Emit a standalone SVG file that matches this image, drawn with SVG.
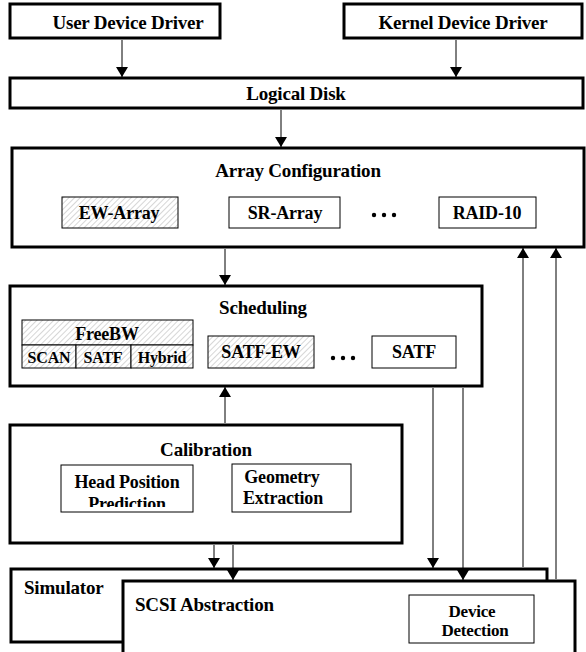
<svg xmlns="http://www.w3.org/2000/svg" width="586" height="652" viewBox="0 0 586 652">
<style>
.outer{fill:#fff;stroke:#000;stroke-width:3}
.inner{fill:#fff;stroke:#000;stroke-width:1}
.hatch{fill:url(#hatch);stroke:#000;stroke-width:1}
.t{font-family:"Liberation Serif","Times New Roman",serif;font-weight:bold;font-size:19px;fill:#000;letter-spacing:-0.2px}
.m{font-size:18px}
.s{font-size:16px}
.d{font-size:17px}
.c{text-anchor:middle}
.conn line{stroke:#000;stroke-width:1}
</style>
<defs>
<pattern id="hatch" patternUnits="userSpaceOnUse" width="4" height="4" patternTransform="rotate(45)">
<rect width="4" height="4" fill="#fff"/>
<line x1="0" y1="0" x2="0" y2="4" stroke="#bbb" stroke-width="1.2"/>
</pattern>
<marker id="ah" viewBox="0 0 10 12" refX="10" refY="6" markerWidth="10" markerHeight="12" markerUnits="userSpaceOnUse" orient="auto">
<path d="M0,0 L10,6 L0,12 z" fill="#000"/>
</marker>
<clipPath id="hpClip"><rect x="61" y="465" width="132" height="42"/></clipPath>
</defs>

<g id="user-device-driver">
<rect class="outer" x="10" y="4" width="210" height="34"/>
<text class="t c" x="128" y="29">User Device Driver</text>
</g>
<g id="kernel-device-driver">
<rect class="outer" x="344" y="4" width="238" height="34"/>
<text class="t c" x="463" y="29">Kernel Device Driver</text>
</g>
<g id="logical-disk">
<rect class="outer" x="10" y="78" width="573" height="30"/>
<text class="t c" x="296" y="100">Logical Disk</text>
</g>
<g id="array-configuration">
<rect class="outer" x="12" y="148" width="572" height="99"/>
<text class="t c" x="298" y="177">Array Configuration</text>
<g id="ew-array"><rect class="hatch" x="62" y="197" width="116" height="31"/><text class="t c m" x="119" y="219">EW-Array</text></g>
<g id="sr-array"><rect class="inner" x="229" y="197" width="111" height="31"/><text class="t c m" x="285" y="219">SR-Array</text></g>
<g id="array-dots"><circle cx="374" cy="215" r="2.2"/><circle cx="384" cy="215" r="2.2"/><circle cx="394" cy="215" r="2.2"/></g>
<g id="raid-10"><rect class="inner" x="439" y="197" width="97" height="31"/><text class="t c m" x="487" y="219">RAID-10</text></g>
</g>
<g id="scheduling">
<rect class="outer" x="10" y="286" width="472" height="100"/>
<text class="t c" x="263" y="314">Scheduling</text>
<g id="freebw">
<rect class="hatch" x="22" y="320" width="171" height="25"/>
<text class="t c m" x="107" y="340">FreeBW</text>
<rect class="hatch" x="22" y="345" width="54" height="23"/>
<rect class="hatch" x="76" y="345" width="55" height="23"/>
<rect class="hatch" x="131" y="345" width="62" height="23"/>
<text class="t c s" x="49" y="363">SCAN</text>
<text class="t c s" x="103" y="363">SATF</text>
<text class="t c s" x="162" y="363">Hybrid</text>
</g>
<g id="satf-ew"><rect class="hatch" x="208" y="336" width="106" height="32"/><text class="t c m" x="261" y="358">SATF-EW</text></g>
<g id="sched-dots"><circle cx="333" cy="358" r="2.2"/><circle cx="343" cy="358" r="2.2"/><circle cx="353" cy="358" r="2.2"/></g>
<g id="satf"><rect class="inner" x="372" y="336" width="84" height="32"/><text class="t c m" x="414" y="358">SATF</text></g>
</g>
<g id="calibration">
<rect class="outer" x="10" y="425" width="392" height="118"/>
<text class="t c" x="206" y="456">Calibration</text>
<g id="head-position-prediction"><rect class="inner" x="61" y="465" width="132" height="47"/>
<g clip-path="url(#hpClip)"><text class="t c m" x="127" y="488">Head Position</text><text class="t c m" x="127" y="510">Prediction</text></g></g>
<g id="geometry-extraction"><rect class="inner" x="232" y="464" width="119" height="48"/>
<text class="t c m" x="282" y="483">Geometry</text><text class="t c m" x="283" y="504">Extraction</text></g>
</g>
<g id="simulator">
<rect class="outer" x="11" y="569" width="536" height="73"/>
<text class="t" x="24" y="594">Simulator</text>
</g>
<g id="scsi-abstraction">
<rect class="outer" x="123" y="581" width="452" height="80"/>
<text class="t" x="135" y="611">SCSI Abstraction</text>
<g id="device-detection"><rect class="inner" x="409" y="595" width="125" height="48"/>
<text class="t c d" x="472" y="617">Device</text><text class="t c d" x="475" y="636">Detection</text></g>
</g>

<g class="conn" id="connectors">
<line x1="122" y1="40" x2="122" y2="77" marker-end="url(#ah)"/>
<line x1="456" y1="40" x2="456" y2="77" marker-end="url(#ah)"/>
<line x1="281" y1="110" x2="281" y2="147" marker-end="url(#ah)"/>
<line x1="225" y1="249" x2="225" y2="285" marker-end="url(#ah)"/>
<line x1="225" y1="423" x2="225" y2="387" marker-end="url(#ah)"/>
<line x1="214" y1="545" x2="214" y2="568" marker-end="url(#ah)"/>
<line x1="233" y1="545" x2="233" y2="580" marker-end="url(#ah)"/>
<line x1="433" y1="388" x2="433" y2="568" marker-end="url(#ah)"/>
<line x1="463" y1="388" x2="463" y2="580" marker-end="url(#ah)"/>
<line x1="523" y1="567" x2="523" y2="248" marker-end="url(#ah)"/>
<line x1="556" y1="579" x2="556" y2="248" marker-end="url(#ah)"/>
</g>
</svg>
